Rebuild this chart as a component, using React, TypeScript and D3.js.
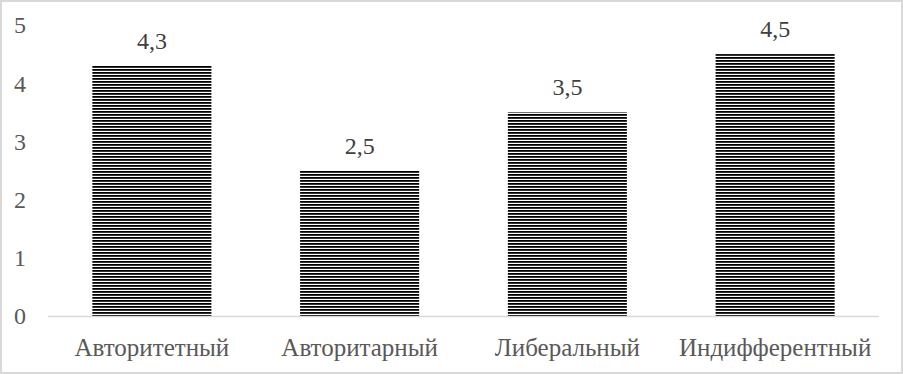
import React from "react";
import * as d3 from "d3";

const categories = ["Авторитетный", "Авторитарный", "Либеральный", "Индифферентный"];
const values = [4.3, 2.5, 3.5, 4.5];
const yTicks = [0, 1, 2, 3, 4, 5];

const App = () => {
  const width = 903;
  const height = 374;
  const margin = { top: 25, right: 24, bottom: 58, left: 48 };

  const x = d3.scaleBand<string>()
    .domain(categories)
    .range([margin.left, width - margin.right])
    .paddingInner(0.427)
    .paddingOuter(0.2135);

  const y = d3.scaleLinear()
    .domain([0, 5])
    .range([height - margin.bottom, margin.top]);

  const fmt = (v: number) => String(v).replace(".", ",");
  const font = "'Liberation Serif', 'Times New Roman', serif";

  return (
    <svg width={width} height={height} style={{ position: "absolute", left: 0, top: 0 }}>
      <defs>
        <pattern id="hstripes" width="8" height="3" patternUnits="userSpaceOnUse">
          <rect width="8" height="3" fill="white" />
          <rect width="8" height="1.8" fill="black" />
        </pattern>
      </defs>
      <rect x={1} y={1} width={width - 2} height={height - 2} fill="white" stroke="#d9d9d9" strokeWidth={2} />

      {yTicks.map(t => (
        <text key={t} x={20} y={y(t)} dy="0.35em" textAnchor="middle"
          fontFamily={font} fontSize={24} fill="#595959">{t}</text>
      ))}

      {categories.map((c, i) => (
        <g key={c}>
          <rect x={x(c)} y={y(values[i])} width={x.bandwidth()} height={y(0) - y(values[i])}
            fill="url(#hstripes)" />
          <text x={(x(c) ?? 0) + x.bandwidth() / 2} y={y(values[i]) - 17} textAnchor="middle"
            fontFamily={font} fontSize={24} fill="#404040">{fmt(values[i])}</text>
          <text x={(x(c) ?? 0) + x.bandwidth() / 2} y={356} textAnchor="middle"
            fontFamily={font} fontSize={25} fill="#595959">{c}</text>
        </g>
      ))}

      <line x1={margin.left} x2={width - margin.right} y1={y(0) + 0.5} y2={y(0) + 0.5}
        stroke="#d9d9d9" strokeWidth={1.5} />
    </svg>
  );
};

export default App;
